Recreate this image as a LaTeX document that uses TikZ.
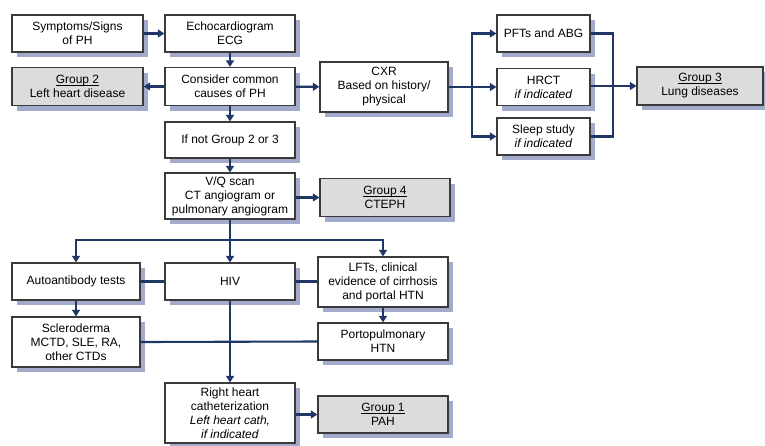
\documentclass[tikz,border=0pt]{standalone}
\usepackage{fontspec}
\setmainfont{Liberation Sans}
\usetikzlibrary{arrows.meta}
\definecolor{navy}{HTML}{1E3766}
\definecolor{boxline}{HTML}{3A3A3A}
\definecolor{shadowc}{HTML}{A3ABCC}
\definecolor{groupfill}{HTML}{DCDCDC}
\newcommand\grpul[1]{\setbox0\hbox{#1}\rlap{\rule[-1.6pt]{\wd0}{0.7pt}}\box0}
% \bx[style]{name}{x}{y}{w}{h}{text}: the node, then its shadow strips
\newcommand\bx[7][box]{%
  \node[#1, minimum width=#5pt, minimum height=#6pt] (#2) at (#3,#4) {#7};
  \fill[shad] ({#3+#5/2+0.65},{#4-#6/2+5}) rectangle ({#3+#5/2+5},{#4+#6/2+5});
  \fill[shad] ({#3-#5/2+5},{#4+#6/2+0.65}) rectangle ({#3+#5/2+5},{#4+#6/2+5});}
\tikzset{
  box/.style={draw=boxline, line width=1.3pt, fill=white, align=center,
    inner sep=1pt, font=\fontsize{12}{14}\selectfont},
  groupbox/.style={box, fill=groupfill},
  arr/.style={draw=navy, line width=2.1pt, -{Triangle[length=6.5pt,width=8pt]}},
  ln/.style={draw=navy, line width=2.1pt},
  shad/.style={fill=shadowc}
}
\begin{document}
\begin{tikzpicture}[x=1pt,y=-1pt]
\useasboundingbox (0,0) rectangle (765,445);
% nodes
\bx{sym}{77.5}{33.5}{131}{37}{Symptoms/Signs\\of PH}
\bx{echo}{230}{33.5}{130}{37}{Echocardiogram\\ECG}
\bx{cons}{230}{86.5}{130}{38}{Consider common\\causes of PH}
\bx[groupbox]{g2}{77.5}{86.5}{131}{38}{\grpul{Group 2}\\Left heart disease}
\bx{ifnot}{230}{140}{130}{36}{If not Group 2 or 3}
\bx{vq}{230}{196}{130}{46}{V/Q scan\\CT angiogram or\\pulmonary angiogram}
\bx[groupbox]{g4}{385}{197.5}{130}{38}{\grpul{Group 4}\\CTEPH}
\bx{cxr}{384}{87}{128}{50}{CXR\\Based on history/\\physical}
\bx{pft}{543.5}{33.5}{93}{37}{PFTs and ABG}
\bx{hrct}{543.5}{87}{93}{37}{HRCT\\\textit{if indicated}}
\bx{sleep}{543.5}{136.5}{93}{37}{Sleep study\\\textit{if indicated}}
\bx[groupbox]{g3}{700}{86}{126}{38}{\grpul{Group 3}\\Lung diseases}
\bx{auto}{76}{281.5}{128}{37}{Autoantibody tests}
\bx{hiv}{230}{281.5}{130}{37}{HIV}
\bx{lft}{383}{282}{130}{50}{LFTs, clinical\\evidence of cirrhosis\\and portal HTN}
\bx{scl}{76}{342}{128}{50}{Scleroderma\\MCTD, SLE, RA,\\other CTDs}
\bx{porto}{383}{341.5}{130}{37}{Portopulmonary\\HTN}
\bx{rhc}{230}{413}{130}{60}{Right heart\\catheterization\\\textit{Left heart cath,}\\\textit{if indicated}}
\bx[groupbox]{g1}{383}{414.5}{130}{37}{\grpul{Group 1}\\PAH}
% coordinates
\coordinate (br) at (230,240);
\coordinate (bl) at (76,240);
\coordinate (brr) at (383,240);
\coordinate (cx) at (472,87);
\coordinate (rx) at (613,87);
% connectors
\draw[arr] (sym) -- (echo);
\draw[arr] (echo) -- (cons);
\draw[arr] (cons) -- (g2);
\draw[arr] (cons) -- (cxr);
\draw[arr] (cons) -- (ifnot);
\draw[arr] (ifnot) -- (vq);
\draw[arr] (vq.east |- g4.west) -- (g4.west);
\draw[ln] (vq.south) -- (br);
\draw[ln, line cap=rect] (bl) -- (brr);
\draw[arr] (bl) -- (auto.north);
\draw[arr] (br) -- (hiv.north);
\draw[arr] (brr) -- (lft.north);
\draw[ln] (auto.east) -- (hiv.west);
\draw[ln] (hiv.east) -- (lft.west |- hiv.east);
\draw[arr] (auto) -- (scl);
\draw[arr] (lft) -- (porto);
\draw[ln] (scl.east) -- (porto.west);
\draw[arr] (hiv) -- (rhc);
\draw[arr] (rhc.east |- g1.west) -- (g1.west);
\draw[ln] (cxr.east) -- (cx);
\draw[ln, line cap=rect] (cx |- pft.west) -- (cx |- sleep.west);
\draw[arr] (cx |- pft.west) -- (pft.west);
\draw[arr] (cx) -- (hrct.west);
\draw[arr] (cx |- sleep.west) -- (sleep.west);
\draw[ln] (pft.east) -- (rx |- pft.east) -- (rx |- sleep.east) -- (sleep.east);
\draw[arr] (hrct.east |- g3.west) -- (g3.west);
\end{tikzpicture}
\end{document}
